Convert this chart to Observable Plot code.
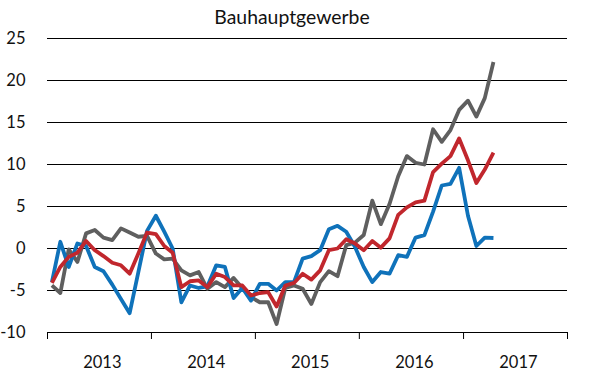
<!DOCTYPE html>
<html>
<head>
<meta charset="utf-8">
<script src="https://cdn.jsdelivr.net/npm/d3@7"></script>
<script src="https://cdn.jsdelivr.net/npm/@observablehq/plot@0.6"></script>
<style>
  body { margin: 0; background: #fff; }
  #wrap { position: relative; width: 590px; height: 387px; }
  #title { position: absolute; left: 0; top: 0; width: 590px; height: 30px; box-sizing: border-box; padding-right: 6px; text-align: center;
           font-family: Lato, "Open Sans", sans-serif; font-size: 19.4px; line-height: 34px; color: #111; z-index: 2; }
  #chart { position: absolute; left: 0; top: 0; }
</style>
</head>
<body>
<div id="wrap">
<div id="chart"></div>
<div id="title">Bauhauptgewerbe</div>
</div>
<script>
const title = "Bauhauptgewerbe";
const yearLabels = [2013, 2014, 2015, 2016, 2017];
const yTicks = [-10, -5, 0, 5, 10, 15, 20, 25];
const seriesNames = ["grau", "blau", "rot"];
const seriesColors = ["#5f5f5f", "#0f72ba", "#c1272d"];

// monthly values, Jan 2013 – Apr 2017
const gray = [-4.4,-5.3,-0.1,-1.6,1.8,2.2,1.3,1.0,2.4,1.9,1.4,1.5,
              -0.6,-1.3,-1.2,-2.6,-3.2,-2.8,-4.8,-4.0,-4.6,-3.5,-4.7,-5.8,
              -6.4,-6.4,-9.0,-4.7,-4.4,-4.8,-6.6,-4.0,-2.7,-3.3,0.4,0.7,
              1.6,5.7,2.9,5.3,8.6,11.0,10.2,10.0,14.2,12.7,14.1,16.5,
              17.6,15.7,17.9,22.2];
const blue = [-4.0,0.8,-2.2,0.6,0.3,-2.2,-2.7,-4.3,-6.0,-7.7,-2.8,2.1,
              3.9,2.0,0.0,-6.4,-4.4,-4.7,-4.5,-2.0,-2.2,-5.9,-4.7,-6.2,
              -4.2,-4.2,-5.0,-4.0,-4.0,-1.2,-0.9,-0.2,2.3,2.7,2.0,0.2,
              -2.2,-4.0,-2.8,-3.0,-0.8,-1.0,1.3,1.6,4.4,7.5,7.7,9.6,
              3.9,0.3,1.3,1.25];
const red  = [-4.1,-2.2,-1.0,-0.5,0.9,-0.2,-0.9,-1.7,-2.0,-3.0,-0.6,1.9,
              1.7,0.3,-0.5,-4.6,-3.9,-3.8,-4.6,-3.0,-3.4,-4.4,-4.4,-5.6,
              -5.3,-5.2,-6.9,-4.4,-4.1,-3.0,-3.7,-2.6,-0.2,0.0,1.1,0.6,
              -0.2,0.9,0.1,1.2,4.0,4.9,5.5,5.7,9.1,10.1,11.0,13.1,
              10.5,7.8,9.4,11.4];

const months = d3.utcMonth.range(new Date(Date.UTC(2013, 0, 1)), new Date(Date.UTC(2017, 4, 1)));
const dates = months.map(m => new Date((+m + +d3.utcMonth.offset(m, 1)) / 2));
const valuesBySeries = [gray, blue, red];
const table = [];
valuesBySeries.forEach((vals, s) => vals.forEach((v, i) => table.push({date: dates[i], value: v, series: seriesNames[s]})));

const yearStarts = [...yearLabels, yearLabels[yearLabels.length - 1] + 1].map(y => new Date(Date.UTC(y, 0, 1)));
const yearMids = yearLabels.map(y => new Date(Date.UTC(y, 6, 2)));

const chart = Plot.plot({
  width: 590,
  height: 387,
  marginLeft: 47,
  marginRight: 23,
  marginTop: 38,
  marginBottom: 55,
  style: {fontFamily: "Lato, 'Open Sans', sans-serif", fontSize: "16.5px", color: "#111", background: "#fff"},
  x: {type: "utc", domain: [yearStarts[0], yearStarts[yearStarts.length - 1]]},
  y: {domain: [-10, 25]},
  color: {domain: seriesNames, range: seriesColors},
  marks: [
    Plot.ruleY(yTicks, {stroke: "#000", strokeWidth: 1}),
    Plot.axisY({ticks: yTicks, tickSize: 0, tickPadding: 22, tickFormat: d => String(d), label: null, fontSize: 16.5}),
    Plot.axisX({ticks: yearStarts, tickSize: 7, tickFormat: () => "", label: null, stroke: "#000", strokeOpacity: 1}),
    Plot.axisX({ticks: yearMids, tickSize: 0, tickPadding: 24, tickFormat: d3.utcFormat("%Y"), label: null, dx: 3, fontSize: 16.5}),
    Plot.line(table, {x: "date", y: "value", z: "series", stroke: "series", strokeWidth: 3.8, strokeLinejoin: "round", strokeLinecap: "butt"})
  ]
});
document.getElementById("chart").appendChild(chart);
</script>
</body>
</html>
